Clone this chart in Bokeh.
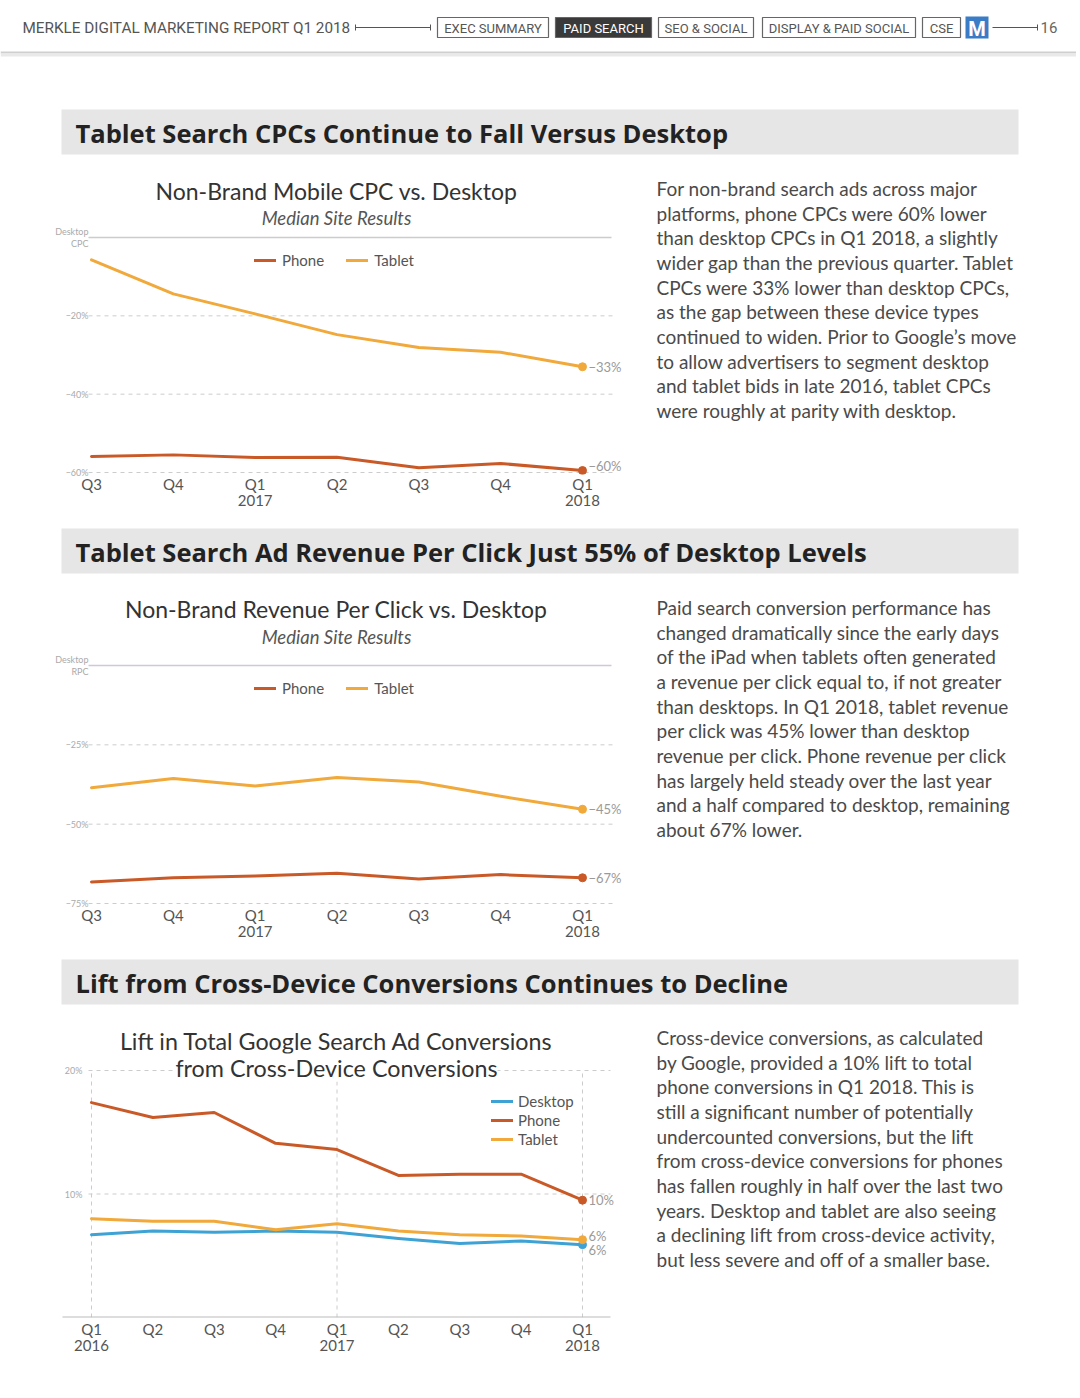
from bokeh.plotting import figure
from bokeh.models import Range1d, FixedTicker, Label, Legend, LegendItem
from bokeh.layouts import column
from bokeh.embed import file_html
from bokeh.resources import INLINE
from bokeh.core.properties import value

# ---------------- data ----------------
cpc_quarters = ["Q3", "Q4", "Q1\n2017", "Q2", "Q3", "Q4", "Q1\n2018"]
cpc_phone = [-55.9, -55.5, -56.2, -56.1, -58.8, -57.7, -59.5]
cpc_tablet = [-5.7, -14.4, -19.5, -24.8, -28.1, -29.3, -33.0]
cpc_yticks = [0, -20, -40, -60]
cpc_ylabels = ["Desktop\nCPC", "−20%", "−40%", "−60%"]

rpc_quarters = ["Q3", "Q4", "Q1\n2017", "Q2", "Q3", "Q4", "Q1\n2018"]
rpc_phone = [-68.2, -66.9, -66.3, -65.5, -67.3, -65.9, -66.9]
rpc_tablet = [-38.5, -35.6, -38.0, -35.3, -36.7, -41.2, -45.3]
rpc_yticks = [0, -25, -50, -75]
rpc_ylabels = ["Desktop\nRPC", "−25%", "−50%", "−75%"]

xd_quarters = ["Q1\n2016", "Q2", "Q3", "Q4", "Q1\n2017", "Q2", "Q3", "Q4", "Q1\n2018"]
xd_desktop = [6.7, 7.0, 6.9, 7.0, 6.9, 6.4, 6.0, 6.2, 5.9]
xd_phone = [17.4, 16.2, 16.6, 14.1, 13.6, 11.5, 11.6, 11.6, 9.5]
xd_tablet = [8.0, 7.8, 7.8, 7.1, 7.6, 7.0, 6.7, 6.6, 6.3]
xd_yticks = [10, 20]
xd_ylabels = ["10%", "20%"]
xd_year_ticks = [0, 4, 8]

nav_items = ["EXEC SUMMARY", "PAID SEARCH", "SEO & SOCIAL", "DISPLAY & PAID SOCIAL", "CSE"]

banner_titles = [
    "Tablet Search CPCs Continue to Fall Versus Desktop",
    "Tablet Search Ad Revenue Per Click Just 55% of Desktop Levels",
    "Lift from Cross-Device Conversions Continues to Decline",
]
para1 = [
    "For non-brand search ads across major",
    "platforms, phone CPCs were 60% lower",
    "than desktop CPCs in Q1 2018, a slightly",
    "wider gap than the previous quarter. Tablet",
    "CPCs were 33% lower than desktop CPCs,",
    "as the gap between these device types",
    "continued to widen. Prior to Google’s move",
    "to allow advertisers to segment desktop",
    "and tablet bids in late 2016, tablet CPCs",
    "were roughly at parity with desktop.",
]
para2 = [
    "Paid search conversion performance has",
    "changed dramatically since the early days",
    "of the iPad when tablets often generated",
    "a revenue per click equal to, if not greater",
    "than desktops. In Q1 2018, tablet revenue",
    "per click was 45% lower than desktop",
    "revenue per click. Phone revenue per click",
    "has largely held steady over the last year",
    "and a half compared to desktop, remaining",
    "about 67% lower.",
]
para3 = [
    "Cross-device conversions, as calculated",
    "by Google, provided a 10% lift to total",
    "phone conversions in Q1 2018. This is",
    "still a significant number of potentially",
    "undercounted conversions, but the lift",
    "from cross-device conversions for phones",
    "has fallen roughly in half over the last two",
    "years. Desktop and tablet are also seeing",
    "a declining lift from cross-device activity,",
    "but less severe and off of a smaller base.",
]

# ---------------- style ----------------
PHONE = "#c95a28"
TABLET = "#f0a93a"
DESKTOP = "#3ea2d4"
FONT = "Lato"
BFONT = "Open Sans"
W = 1076


def pct(v):
    r = round(v)
    return ("−" if r < 0 else "") + f"{abs(r)}%"


def section_fig(sec_top, sec_bottom, fb, x_first, x_last, n, ya_val, ya_px, yb_val, yb_px, x_standoff):
    kx = (x_last - x_first) / (n - 1)
    ky = (yb_px - ya_px) / (ya_val - yb_val)

    def x_of(px):
        return (px - x_first) / kx

    def y_of(px):
        return ya_val + (ya_px - px) / ky

    p = figure(width=W, height=sec_bottom - sec_top,
               x_range=Range1d(x_of(0), x_of(W)), y_range=Range1d(y_of(fb), y_of(sec_top)),
               min_border_left=0, min_border_right=0, min_border_top=0,
               min_border_bottom=sec_bottom - fb,
               output_backend="svg", toolbar_location=None, tools="", title=None)
    p.outline_line_color = None
    p.background_fill_color = "white"
    p.border_fill_color = "white"
    p.grid.grid_line_color = None
    p.xaxis.ticker = FixedTicker(ticks=list(range(n)))
    p.xaxis.axis_line_color = None
    p.xaxis.major_tick_line_color = None
    p.xaxis.minor_tick_line_color = None
    p.xaxis.major_label_text_font = FONT
    p.xaxis.major_label_text_font_size = "15px"
    p.xaxis.major_label_text_color = "#555555"
    p.xaxis.major_label_text_line_height = 0.93
    p.xaxis.major_label_standoff = x_standoff
    p.yaxis.axis_line_color = None
    p.yaxis.major_tick_line_color = None
    p.yaxis.minor_tick_line_color = None
    p.yaxis.major_label_text_font = FONT
    p.yaxis.major_label_text_font_size = "9px"
    p.yaxis.major_label_text_color = "#aaaaaa"
    p.yaxis.major_label_text_line_height = 1.15
    return p, x_of, y_of


def add_banner(p, x_of, y_of, top, bottom, text):
    p.quad(left=[x_of(61)], right=[x_of(1018)], top=[y_of(top)], bottom=[y_of(bottom)],
           fill_color="#e6e6e6", line_color=None)
    p.text(x=[x_of(75)], y=[y_of((top + bottom) / 2 + 1)], text=[text], text_font=value(BFONT),
           text_font_size="25.5px", text_font_style="bold", text_color="#222222",
           text_baseline="middle", text_align="left")


def add_paragraph(p, x_of, y_of, lines, y0):
    ys = [y_of(y0 + i * 24.65) for i in range(len(lines))]
    p.text(x=[x_of(656)] * len(lines), y=ys, text=lines, text_font=value(FONT),
           text_font_size="19px", text_color="#4a4a4a", text_baseline="middle", text_align="left")


def add_titles(p, x_of, y_of, texts, ys, sizes, styles):
    p.text(x=[x_of(336)] * len(texts), y=[y_of(v) for v in ys], text=texts,
           text_font=value(FONT), text_font_size=sizes, text_font_style=styles,
           text_color=["#333333" if s == "normal" else "#555555" for s in styles],
           text_align="center", text_baseline="middle")


def end_label(p, x, y, text, dy=0):
    p.add_layout(Label(x=x, y=y, x_offset=6, y_offset=dy, text=text, text_align="left",
                       text_baseline="middle", text_font=FONT, text_font_size="13px",
                       text_color="#9a9a9a"))


def two_series_section(sec_top, sec_bottom, fb, ya_px, yb_px, quarters, phone, tablet,
                       yticks, ylabels, banner, btop, bbot, titles, title_ys, legend_y,
                       dy_phone, zero_color, para, para_y):
    n = len(quarters)
    p, x_of, y_of = section_fig(sec_top, sec_bottom, fb, 91, 582, n,
                                yticks[0], ya_px, yticks[-1], yb_px, -6)
    add_banner(p, x_of, y_of, btop, bbot, banner)
    p.xaxis.major_label_overrides = {i: q for i, q in enumerate(quarters)}
    p.yaxis.ticker = FixedTicker(ticks=yticks)
    p.yaxis.major_label_overrides = {t: l for t, l in zip(yticks, ylabels)}
    p.yaxis.major_label_standoff = -94
    grid = yticks[1:]
    p.segment(x0=[x_of(88)] * len(grid), y0=grid, x1=[x_of(612)] * len(grid), y1=grid,
              line_color="#cccccc", line_dash="4 4", line_width=1)
    p.segment(x0=[x_of(88)], y0=[yticks[0]], x1=[x_of(611)], y1=[yticks[0]],
              line_color=zero_color, line_width=1.3)
    xs = list(range(n))
    r_t = p.line(xs, tablet, line_color=TABLET, line_width=3, line_join="round", line_cap="round")
    r_p = p.line(xs, phone, line_color=PHONE, line_width=3, line_join="round", line_cap="round")
    p.scatter([xs[-1]], [tablet[-1]], size=8, color=TABLET)
    p.scatter([xs[-1]], [phone[-1]], size=8, color=PHONE)
    end_label(p, xs[-1], tablet[-1], pct(tablet[-1]))
    end_label(p, xs[-1], phone[-1], pct(phone[-1]), dy=dy_phone)
    add_titles(p, x_of, y_of, titles, title_ys, ["23px", "18.5px"], ["normal", "italic"])
    add_paragraph(p, x_of, y_of, para, para_y)
    leg = Legend(items=[LegendItem(label="Phone", renderers=[r_p]),
                        LegendItem(label="Tablet", renderers=[r_t])],
                 orientation="horizontal", location=(254, fb - (legend_y + 10)),
                 padding=0, spacing=22, margin=0, glyph_width=22, glyph_height=20,
                 label_height=20, label_standoff=6, label_text_font=FONT,
                 label_text_font_size="15px", label_text_color="#555555",
                 border_line_color=None, background_fill_alpha=0)
    p.add_layout(leg)
    return p


# ---------------- header ----------------
hdr = figure(width=W, height=62, x_range=Range1d(0, W), y_range=Range1d(62, 0),
             output_backend="svg", toolbar_location=None, tools="",
             x_axis_location=None, y_axis_location=None, min_border=0, title=None)
hdr.grid.visible = False
hdr.outline_line_color = None
HF = value("Roboto")
hdr.text(x=[22], y=[27], text=["MERKLE DIGITAL MARKETING REPORT Q1 2018"], text_font=HF,
         text_font_size="15.3px", text_color="#555555", text_baseline="middle", text_align="left")
hdr.segment(x0=[355, 355, 430, 992, 1037], y0=[27, 24, 24, 27, 24],
            x1=[430, 355, 430, 1037, 1037], y1=[27, 30, 30, 27, 30], line_color="#555555", line_width=1)
box_l = [437, 555, 658, 762, 922]
box_r = [548, 651, 753, 915, 960]
for i, (l, r, t) in enumerate(zip(box_l, box_r, nav_items)):
    active = (i == 1)
    hdr.quad(left=[l], right=[r], top=[17], bottom=[37],
             fill_color="#3a3a3a" if active else "white", line_color="#666666", line_width=1.2)
    hdr.text(x=[(l + r) / 2], y=[27.5], text=[t], text_font=HF, text_font_size="13px",
             text_color="white" if active else "#555555", text_baseline="middle", text_align="center")
hdr.quad(left=[965], right=[988], top=[16], bottom=[38], fill_color="#3b7cc6", line_color=None)
hdr.text(x=[976.5], y=[28], text=["M"], text_font=HF, text_font_size="20px",
         text_font_style="bold", text_color="white", text_baseline="middle", text_align="center")
hdr.text(x=[1040], y=[27], text=["16"], text_font=HF, text_font_size="15px",
         text_color="#666666", text_baseline="middle", text_align="left")
hdr.quad(left=[0], right=[W], top=[51], bottom=[53], fill_color="#cfcfcf", line_color=None)
hdr.quad(left=[0], right=[W], top=[53], bottom=[56], fill_color="#e9e9e9", line_color=None)

# ---------------- sections ----------------
s1 = two_series_section(62, 520, 474, 237, 472, cpc_quarters, cpc_phone, cpc_tablet,
                        cpc_yticks, cpc_ylabels, banner_titles[0], 109, 154,
                        ["Non-Brand Mobile CPC vs. Desktop", "Median Site Results"], [190, 217],
                        260, 5, "#cccccc", para1, 188)
s2 = two_series_section(520, 952, 905, 665, 903, rpc_quarters, rpc_phone, rpc_tablet,
                        rpc_yticks, rpc_ylabels, banner_titles[1], 528, 573,
                        ["Non-Brand Revenue Per Click vs. Desktop", "Median Site Results"], [608, 636],
                        688, 0, "#d0c8d8", para2, 607)

n3 = len(xd_quarters)
s3, x3, y3 = section_fig(952, 1378, 1317, 91, 582, n3, 20, 1070, 0, 1317, -4)
add_banner(s3, x3, y3, 959, 1004, banner_titles[2])
s3.xaxis.major_label_overrides = {i: q for i, q in enumerate(xd_quarters)}
s3.yaxis.ticker = FixedTicker(ticks=xd_yticks)
s3.yaxis.major_label_overrides = {t: l for t, l in zip(xd_yticks, xd_ylabels)}
s3.yaxis.major_label_standoff = -88
s3.segment(x0=[x3(88)] * len(xd_yticks), y0=xd_yticks, x1=[x3(610)] * len(xd_yticks), y1=xd_yticks,
           line_color="#cccccc", line_dash="4 4", line_width=1)
s3.segment(x0=xd_year_ticks, y0=[0] * len(xd_year_ticks), x1=xd_year_ticks,
           y1=[xd_yticks[-1]] * len(xd_year_ticks), line_color="#cccccc", line_dash="4 4", line_width=1)
s3.segment(x0=[x3(62)], y0=[0], x1=[x3(610)], y1=[0], line_color="#bbbbbb", line_width=2)
xs3 = list(range(n3))
r_d = s3.line(xs3, xd_desktop, line_color=DESKTOP, line_width=3, line_join="round", line_cap="round")
r_t3 = s3.line(xs3, xd_tablet, line_color=TABLET, line_width=3, line_join="round", line_cap="round")
r_p3 = s3.line(xs3, xd_phone, line_color=PHONE, line_width=3, line_join="round", line_cap="round")
for ser, col in [(xd_desktop, DESKTOP), (xd_tablet, TABLET), (xd_phone, PHONE)]:
    s3.scatter([xs3[-1]], [ser[-1]], size=8, color=col)
end_label(s3, xs3[-1], xd_phone[-1], pct(xd_phone[-1]))
end_label(s3, xs3[-1], xd_tablet[-1], pct(xd_tablet[-1]), dy=4)
end_label(s3, xs3[-1], xd_desktop[-1], pct(xd_desktop[-1]), dy=-5)
s3.add_layout(Label(x=x3(336), y=y3(1040), text="Lift in Total Google Search Ad Conversions",
                    text_align="center", text_baseline="middle", text_font=FONT,
                    text_font_size="23.3px", text_color="#333333"))
s3.add_layout(Label(x=x3(336), y=y3(1067), text="from Cross-Device Conversions",
                    text_align="center", text_baseline="middle", text_font=FONT,
                    text_font_size="23.3px", text_color="#333333",
                    background_fill_color="white", background_fill_alpha=1.0))
add_paragraph(s3, x3, y3, para3, 1037)
leg3 = Legend(items=[LegendItem(label="Desktop", renderers=[r_d]),
                     LegendItem(label="Phone", renderers=[r_p3]),
                     LegendItem(label="Tablet", renderers=[r_t3])],
              orientation="vertical", location=(491, 1317 - 1148),
              padding=0, spacing=1, margin=0, glyph_width=22, glyph_height=18,
              label_height=18, label_standoff=5, label_text_font=FONT,
              label_text_font_size="15px", label_text_color="#555555",
              border_line_color=None, background_fill_alpha=0)
s3.add_layout(leg3)

layout = column(hdr, s1, s2, s3)

open("out.html", "w").write(file_html(layout, INLINE))
